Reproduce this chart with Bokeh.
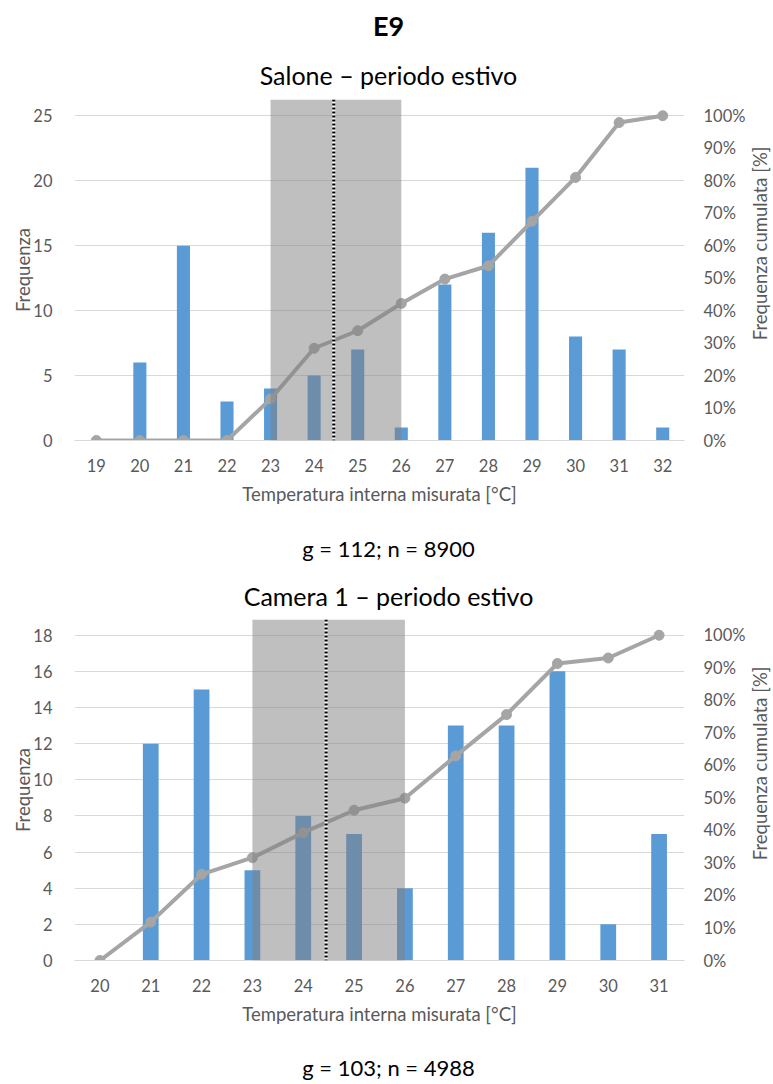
import math
from bokeh.plotting import figure
from bokeh.layouts import column, row
from bokeh.models import (Range1d, LinearAxis, FixedTicker, PrintfTickFormatter,
                          BoxAnnotation, Span)
from bokeh.core.properties import value
from bokeh.embed import file_html
from bokeh.resources import INLINE

# ---------------- data ----------------
main_title = "E9"

title1 = "Salone – periodo estivo"
temps1 = [19, 20, 21, 22, 23, 24, 25, 26, 27, 28, 29, 30, 31, 32]
freq1 = [0, 6, 15, 3, 4, 5, 7, 1, 12, 16, 21, 8, 7, 1]
cum1 = [0, 0, 0, 0, 12.8, 28.4, 33.8, 42.2, 49.7, 53.8, 67.5, 81.0, 97.9, 100]
yticks1 = [0, 5, 10, 15, 20, 25]
note1 = "g = 112; n = 8900"

title2 = "Camera 1 – periodo estivo"
temps2 = [20, 21, 22, 23, 24, 25, 26, 27, 28, 29, 30, 31]
freq2 = [0, 12, 15, 5, 8, 7, 4, 13, 13, 16, 2, 7]
cum2 = [0, 11.8, 26.5, 31.6, 39.3, 46.2, 49.9, 62.9, 75.6, 91.3, 93.0, 100]
yticks2 = [0, 2, 4, 6, 8, 10, 12, 14, 16, 18]
note2 = "g = 103; n = 4988"

pct_ticks = [0, 10, 20, 30, 40, 50, 60, 70, 80, 90, 100]
comfort_band = [23, 26]
threshold = 24.45

x_label = "Temperatura interna misurata [°C]"
y_label = "Frequenza"
y2_label = "Frequenza cumulata [%]"

FONT = "Lato"
TICK_COLOR = "#595959"
BAR_COLOR = "#5B9BD5"
LINE_COLOR = "#A5A5A5"
GRID_COLOR = "#D9D9D9"
AX_FS = "18.5px"
PAGE_W = 771


def strip(width, height, items):
    """A plain figure used as a text area; items: (text, x, y_from_top,
    size, bold, angle, color)."""
    s = figure(width=width, height=height, x_range=Range1d(0, width),
               y_range=Range1d(0, height), title=None,
               x_axis_type=None, y_axis_type=None,
               output_backend="svg", toolbar_location=None,
               min_border=0, min_border_left=0, min_border_right=0,
               min_border_top=0, min_border_bottom=0,
               background_fill_color="white", border_fill_color="white")
    s.outline_line_color = None
    s.xgrid.visible = False
    s.ygrid.visible = False
    for text, x, yt, size, bold, angle, color in items:
        s.text(x=[x], y=[height - yt], text=[text], angle=angle,
               text_align="center", text_baseline="middle",
               text_font=value(FONT), text_font_size=size,
               text_font_style="bold" if bold else "normal",
               text_color=color)
    return s


def make_chart(temps, freq, cum, yticks, ymax, bar_w):
    fw, fh = 610, 341
    x0 = temps[0] - 0.5
    x1 = temps[-1] + 0.5
    p = figure(frame_width=fw, frame_height=fh, title=None,
               x_range=Range1d(x0, x1), y_range=Range1d(0, ymax),
               output_backend="svg", toolbar_location=None,
               min_border_left=74, min_border_right=64,
               min_border_top=0, min_border_bottom=82,
               background_fill_color="white", border_fill_color="white")
    p.outline_line_color = None

    pct_max = ymax / yticks[-1] * 100
    p.extra_y_ranges = {"pct": Range1d(0, pct_max)}

    # grid
    p.xgrid.grid_line_color = None
    p.ygrid.grid_line_color = GRID_COLOR
    p.ygrid.grid_line_width = 1
    p.yaxis.ticker = FixedTicker(ticks=yticks)

    # x axis
    xa = p.xaxis[0]
    xa.ticker = FixedTicker(ticks=temps)
    xa.axis_line_color = GRID_COLOR
    xa.major_tick_line_color = None
    xa.minor_tick_line_color = None
    xa.major_label_text_font = FONT
    xa.major_label_text_font_size = "16.5px"
    xa.major_label_text_color = TICK_COLOR
    xa.major_label_standoff = 12
    xa.axis_label = x_label
    xa.axis_label_text_font = FONT
    xa.axis_label_text_font_size = AX_FS
    xa.axis_label_text_font_style = "normal"
    xa.axis_label_text_color = TICK_COLOR
    xa.axis_label_standoff = 8

    # left axis
    ya = p.yaxis[0]
    ya.axis_line_color = None
    ya.major_tick_line_color = None
    ya.minor_tick_line_color = None
    ya.major_label_text_font = FONT
    ya.major_label_text_font_size = "16.5px"
    ya.major_label_text_color = TICK_COLOR
    ya.major_label_standoff = 16
    ya.axis_label = y_label
    ya.axis_label_text_font = FONT
    ya.axis_label_text_font_size = AX_FS
    ya.axis_label_text_font_style = "normal"
    ya.axis_label_text_color = TICK_COLOR
    ya.axis_label_standoff = -4

    # right axis (its title is drawn in a side strip, reading bottom-to-top)
    ra = LinearAxis(y_range_name="pct", ticker=FixedTicker(ticks=pct_ticks),
                    formatter=PrintfTickFormatter(format="%d%%"))
    ra.axis_line_color = None
    ra.major_tick_line_color = None
    ra.minor_tick_line_color = None
    ra.major_label_text_font = FONT
    ra.major_label_text_font_size = "16.5px"
    ra.major_label_text_color = TICK_COLOR
    ra.major_label_standoff = 13
    p.add_layout(ra, "right")

    # bars
    p.vbar(x=temps, top=freq, width=bar_w, bottom=0, fill_color=BAR_COLOR,
           line_color=None)
    # cumulative line
    p.line(x=temps, y=cum, y_range_name="pct", line_color=LINE_COLOR,
           line_width=4)
    p.scatter(x=temps, y=cum, y_range_name="pct", size=10,
              fill_color=LINE_COLOR, line_color=LINE_COLOR)

    # comfort band + threshold
    p.add_layout(BoxAnnotation(left=comfort_band[0], right=comfort_band[1],
                               bottom=0, fill_color="#808080",
                               fill_alpha=0.5, line_color=None))
    p.add_layout(Span(location=threshold, dimension="height",
                      line_color="white", line_width=3))
    p.add_layout(Span(location=threshold, dimension="height",
                      line_color="black", line_width=3, line_dash="2 2"))
    return p


CX = 388  # horizontal centre of the titles

top1 = strip(PAGE_W, 99, [
    (main_title, CX, 25, "27px", True, 0.0, "black"),
    (title1, CX, 74, "25px", False, 0.0, "black"),
])
p1 = make_chart(temps1, freq1, cum1, yticks1, 26.25, 0.3)
side1 = strip(24, 423, [(y2_label, 11, 178.5, AX_FS, False, math.pi / 2,
                         TICK_COLOR)])

top2 = strip(PAGE_W, 97, [
    (note1, CX, 26, "22px", False, 0.0, "black"),
    (title2, CX, 73, "25px", False, 0.0, "black"),
])
p2 = make_chart(temps2, freq2, cum2, yticks2, 18.87, 0.31)
side2 = strip(24, 423, [(y2_label, 11, 178.5, AX_FS, False, math.pi / 2,
                         TICK_COLOR)])

bottom = strip(PAGE_W, 40, [(note2, CX, 25, "22px", False, 0.0, "black")])

p = column(top1, row(p1, side1, spacing=0), top2, row(p2, side2, spacing=0),
           bottom, spacing=0)
open("out.html", "w").write(file_html(p, INLINE))
